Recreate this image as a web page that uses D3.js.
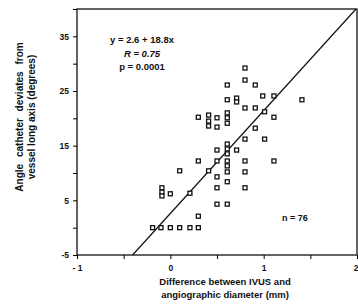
<!DOCTYPE html>
<html>
<head>
<meta charset="utf-8">
<script src="https://cdn.jsdelivr.net/npm/d3@7"></script>
<style>
    body { margin: 0; background: #fff; }
    svg text { font-family: "Liberation Sans", Arial, sans-serif; font-weight: bold; fill: #111; }
</style>
</head>
<body>
<div id="chart"></div>
<script>
// vim: set expandtab shiftwidth=4 softtabstop=4:

// difference between IVUS and angiographic diameter (mm)
var diff_mm = [
    0.80, 0.80, 0.91, 0.61, 0.61, 0.71, 0.71, 0.99, 1.11, 1.41,
    0.80, 0.91, 1.01, 1.11, 0.30, 0.41, 0.41, 0.41, 0.50, 0.61,
    0.61, 0.61, 0.50, 0.91,
    0.80, 1.01, 0.61, 0.61, 0.61, 0.50, 0.71, 0.30, 0.50, 0.61,
    0.61, 0.80, 1.11, 0.10, 0.41, 0.61, 0.80, 0.50, 0.61, 0.50,
    0.80, -0.09, -0.09, -0.09, 0.00, 0.21, 0.50, 0.61, 0.30,
    -0.19, -0.10, 0.00, 0.10, 0.21, 0.30
];
// angle the catheter deviates from the vessel long axis (degrees)
var angle_deg = [
    29.2, 27.0, 26.1, 26.1, 23.4, 23.7, 23.0, 24.1, 24.1, 23.4,
    21.9, 21.9, 21.2, 20.2, 20.2, 20.6, 19.5, 18.6, 20.1, 21.0,
    20.1, 19.1, 18.4, 18.2,
    16.2, 16.2, 15.3, 14.4, 13.5, 14.2, 14.2, 12.2, 12.2, 12.2,
    11.3, 12.2, 12.2, 10.4, 10.4, 10.2, 10.2, 9.3, 8.4, 7.3,
    7.3, 7.3, 6.5, 5.8, 6.2, 6.3, 4.3, 4.3, 2.1,
    0.0, 0.0, 0.0, 0.0, 0.0, 0.0
];
var fit = { intercept: 2.6, slope: 18.8 };
var x_ticks = [-1, -0.5, 0, 0.5, 1, 1.5, 2];
var x_tick_labels = ["- 1", "", "0", "", "1", "", "2"];
var y_ticks = [-5, 0, 5, 10, 15, 20, 25, 30, 35, 40];
var y_tick_labels = ["-5", "", "5", "", "15", "", "25", "", "35", ""];
var stats_lines = ["y = 2.6 + 18.8x", "R = 0.75", "p = 0.0001"];
var n_label = "n = 76";

chart = (function(){

    var W = 358, H = 308;
    var margin = { left: 77, top: 9, right: 1, bottom: 53 };

    //
    // draw:
    //   Scatter of points, regression line, framed axes
    //
    function draw() {
        var svg = d3.select("#chart").append("svg")
                    .attr("width", W).attr("height", H);
        var x = d3.scaleLinear().domain([-1, 2])
                  .range([margin.left, W - margin.right]);
        var y = d3.scaleLinear().domain([-5, 40])
                  .range([H - margin.bottom, margin.top]);

        // frame
        svg.append("rect")
           .attr("x", x(-1)).attr("y", y(40))
           .attr("width", x(2) - x(-1)).attr("height", y(-5) - y(40))
           .attr("fill", "none").attr("stroke", "#111")
           .attr("stroke-width", 1.3);

        var xaxis = d3.axisBottom(x).tickValues(x_ticks).tickSize(4)
                      .tickFormat(function(d, i) { return x_tick_labels[i]; });
        var gx = svg.append("g")
                    .attr("transform", "translate(0," + y(-5) + ")")
                    .call(xaxis);
        gx.select(".domain").remove();
        gx.selectAll("text").attr("font-size", 8.5).attr("dy", "1.1em");
        // last label sits right on the window edge
        gx.selectAll("text").filter(function(d) { return d == 2; })
          .attr("text-anchor", "end").attr("x", 1);

        var yaxis = d3.axisLeft(y).tickValues(y_ticks).tickSize(4)
                      .tickFormat(function(d, i) { return y_tick_labels[i]; });
        var gy = svg.append("g")
                    .attr("transform", "translate(" + x(-1) + ",0)")
                    .call(yaxis);
        gy.select(".domain").remove();
        gy.selectAll("text").attr("font-size", 8.5).attr("x", -8);

        // regression line, clipped to the plot area
        var x0 = (-5 - fit.intercept) / fit.slope;
        var x1 = (40 - fit.intercept) / fit.slope;
        svg.append("line")
           .attr("x1", x(x0)).attr("y1", y(fit.intercept + fit.slope * x0))
           .attr("x2", x(x1)).attr("y2", y(fit.intercept + fit.slope * x1))
           .attr("stroke", "#111").attr("stroke-width", 1.2);

        // points as open squares
        var s = 4;
        svg.append("g").selectAll("rect")
           .data(d3.range(diff_mm.length))
           .join("rect")
           .attr("x", function(i) { return x(diff_mm[i]) - s / 2; })
           .attr("y", function(i) { return y(angle_deg[i]) - s / 2; })
           .attr("width", s).attr("height", s)
           .attr("fill", "#fff").attr("stroke", "#111")
           .attr("stroke-width", 1.3);

        // fit statistics
        svg.append("g").selectAll("text")
           .data(stats_lines)
           .join("text")
           .attr("x", 142)
           .attr("y", function(d, i) { return 43 + i * 13.5; })
           .attr("text-anchor", "middle")
           .attr("font-size", 9.5)
           .attr("font-style", function(d, i) { return i == 1 ? "italic" : null; })
           .text(function(d) { return d; });

        svg.append("text")
           .attr("x", 295).attr("y", 221)
           .attr("text-anchor", "middle").attr("font-size", 9)
           .text(n_label);

        // axis titles
        var xt = svg.append("text")
                    .attr("text-anchor", "middle").attr("font-size", 9.5)
                    .attr("transform", "translate(225,285)");
        xt.append("tspan").attr("x", 0).attr("dy", 0)
          .text("Difference between IVUS and");
        xt.append("tspan").attr("x", 0).attr("dy", 13)
          .text("angiographic diameter (mm)");

        var yt = svg.append("text")
                    .attr("text-anchor", "middle").attr("font-size", 10)
                    .attr("transform", "translate(23,117) rotate(-90)");
        yt.append("tspan").attr("x", 0).attr("dy", 0)
          .attr("word-spacing", 4)
          .text("Angle catheter deviates from");
        yt.append("tspan").attr("x", 0).attr("dy", 11.5)
          .text("vessel long axis (degrees)");
    }

    return { draw: draw };
})();

chart.draw();
</script>
</body>
</html>
